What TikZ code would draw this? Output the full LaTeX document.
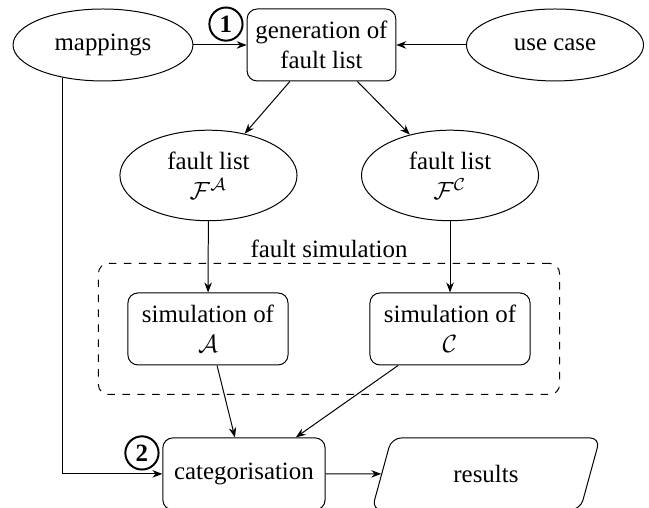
\documentclass[tikz,border=0pt]{standalone}
\usepackage{fontspec}
\setmainfont{Liberation Serif}
\usetikzlibrary{shapes.geometric,arrows.meta,fit}

\tikzset{
  datanode/.style={draw, ellipse, align=center, minimum width=2.5cm, minimum height=1.2cm},
  procnode/.style={draw, rectangle, rounded corners=4pt, align=center, minimum width=2.26cm, minimum height=1.016cm},
  stepmark/.style={draw, circle, thick, inner sep=1.8pt, font=\bfseries},
}

\begin{document}
\begin{tikzpicture}[>={Stealth[length=4pt,width=3pt]}]
  \useasboundingbox (0,0) rectangle (9.162,-7.171);
  % inputs and fault list generation
  \node[datanode, minimum width=2.54cm, minimum height=1.016cm] (mappings) at (1.454,-0.635) {mappings};
  \node[procnode, minimum width=2.075cm] (gen) at (4.538,-0.635) {generation of\\fault list};
  \node[datanode, minimum height=1.016cm] (usecase) at (7.835,-0.635) {use case};
  \node[stepmark] (one) at (3.19,-0.34) {1};
  % the two fault lists
  \node[datanode] (flA) at (2.943,-2.477) {fault list\\$\mathcal{F}^{\mathcal{A}}$};
  \node[datanode] (flC) at (6.353,-2.477) {fault list\\$\mathcal{F}^{\mathcal{C}}$};
  % fault simulation block
  \node[procnode] (simA) at (2.936,-4.644) {simulation of\\$\mathcal{A}$};
  \node[procnode] (simC) at (6.353,-4.644) {simulation of\\$\mathcal{C}$};
  \node[draw, dashed, rounded corners=4pt, inner sep=0.41cm, fit=(simA)(simC),
        label={[inner sep=2pt]above:fault simulation}] (faultsim) {};
  % evaluation
  \node[procnode, minimum width=2.29cm] (cat) at (3.444,-6.69) {categorisation};
  \node[draw, trapezium, trapezium left angle=60, trapezium right angle=120,
        trapezium stretches body, rounded corners=4pt,
        minimum width=3.22cm, minimum height=1.016cm] (results) at (6.86,-6.69) {results};
  \node[stepmark] (two) at (2.004,-6.394) {2};
  % connections
  \draw[->] (mappings) -- (gen);
  \draw[->] (usecase) -- (gen);
  \draw[->] (gen) -- (flA);
  \draw[->] (gen) -- (flC);
  \draw[->] (flA) -- (simA);
  \draw[->] (flC) -- (simC);
  \draw[->] (simA) -- (cat);
  \draw[->] (simC) -- (cat);
  \draw[->] (mappings.219) |- (cat);
  \draw[->] (cat) -- (results);
\end{tikzpicture}
\end{document}
